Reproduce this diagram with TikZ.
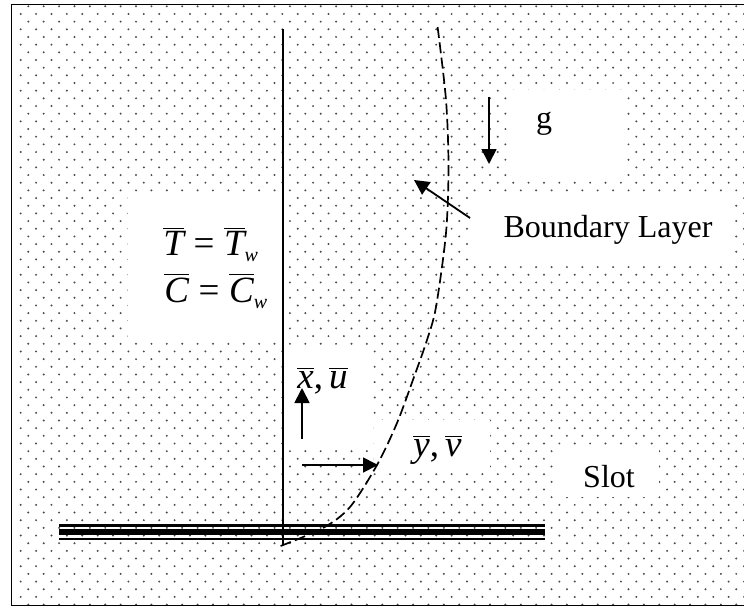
\documentclass[tikz,border=0pt]{standalone}
\usepackage{fontspec}
\setmainfont{Liberation Serif}
\usetikzlibrary{arrows.meta}
\newcommand{\ovl}[1]{\ensuremath{\overline{\mbox{\itshape #1}}}}
\newcommand{\subw}{\raisebox{-3pt}{\fontsize{10}{11}\selectfont\itshape w}}

\begin{document}
\begin{tikzpicture}[x=0.5pt, y=-0.5pt,
    lbl/.style={font={\fontsize{16}{19}\selectfont}, inner sep=0pt},
    eqn/.style={font={\fontsize{18.5}{22}\selectfont}, inner sep=0pt, anchor=base west},
    blank/.style={fill=white},
    arr/.style={-{Triangle[length=7.5pt,width=7.5pt]}, line width=0.9pt},
    dot/.style={fill=black!70}]
    \useasboundingbox (0,0) rectangle (744,607);

    % Dotted background
    \foreach \r in {0,...,39} {
        \foreach \c in {0,...,47} {
            \fill[dot] ({28.3+15.39*\c}, {6.3+15.34*\r}) circle (0.55pt);
            \fill[dot] ({20.7+15.39*\c}, {13.97+15.34*\r}) circle (0.55pt);
        }
    }
    \draw[line width=0.8pt] (11.5,4.5) rectangle (760,605.5);

    % Text boxes
    \fill[blank] (128,195) rectangle (283,342);
    \fill[blank] (283,347) rectangle (371,445);
    \fill[blank] (374,420) rectangle (490,473);
    \fill[blank] (510,90) rectangle (627,176);
    \fill[blank] (470,195) rectangle (731,265);
    \fill[blank] (558,447) rectangle (659,497);

    % Wall and slot
    \coordinate (walltop) at (283,29);
    \coordinate (wallbot) at (283,545);
    \draw[line width=0.9pt] (walltop) -- (wallbot);
    \draw[line width=1.2pt] (59,525.5) -- (545,525.5);
    \draw[line width=2.6pt] (59,532) -- (545,532);
    \draw[line width=1.2pt] (59,539) -- (545,539);

    % Boundary layer edge
    \draw[dash pattern=on 5.5pt off 2.2pt, line width=0.85pt] plot[smooth] coordinates
        {(437.6,27) (446,100) (448.5,167) (446,233) (436,307) (427,340)
         (414,377) (397,423) (377,465) (350,507) (323,528) (278,547)};

    % Labels
    \node[eqn] (teq) at (163,255) {$\ovl{T}\mathrel{\mbox{=}}\ovl{T}$\subw};
    \node[eqn] (ceq) at (164,302) {$\ovl{C}\mathrel{\mbox{=}}\ovl{C}$\subw};
    \node[eqn] (xu) at (297,388) {\ovl{x},\,\ovl{u}};
    \node[eqn] (yv) at (413,456) {\ovl{y},\,\ovl{v}};
    \node[lbl, anchor=base] (grav) at (544,128) {g};
    \node[lbl, anchor=base] (bl) at (608,237) {Boundary Layer};
    \node[lbl, anchor=base] (slot) at (609,487) {Slot};

    % Arrows
    \coordinate (gfrom) at (489,97);
    \coordinate (gto) at (489,164);
    \coordinate (blfrom) at (470,218);
    \coordinate (blto) at (414,180);
    \coordinate (xufrom) at (302,439);
    \coordinate (xuto) at (302,388);
    \coordinate (yvfrom) at (302,465);
    \coordinate (yvto) at (378,465);
    \draw[arr] (gfrom) -- (gto);
    \draw[arr] (blfrom) -- (blto);
    \draw[arr] (xufrom) -- (xuto);
    \draw[arr] (yvfrom) -- (yvto);
\end{tikzpicture}
\end{document}
